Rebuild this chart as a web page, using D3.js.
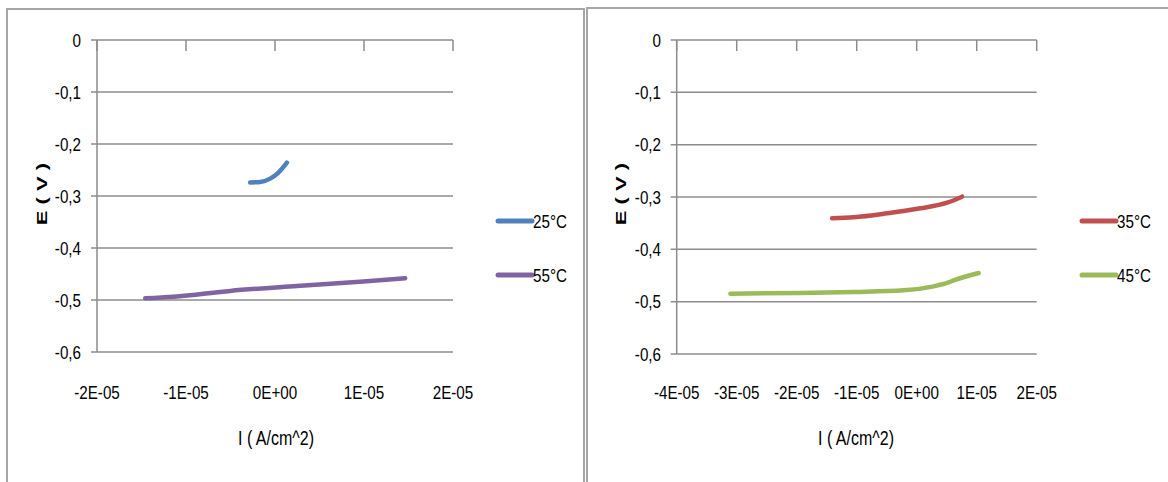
<!DOCTYPE html>
<html>
<head>
<meta charset="utf-8">
<script src="https://cdn.jsdelivr.net/npm/d3@7"></script>
<style>
  body { margin: 0; background: #fff; }
  svg text { font-family: "Liberation Sans", Arial, sans-serif; fill: #000; }
</style>
</head>
<body>
<svg id="chart" width="1168" height="482"></svg>
<script>
// ***** Data *****
const yTicks = [0, -0.1, -0.2, -0.3, -0.4, -0.5, -0.6];
const xTicksLeft = [-2e-5, -1e-5, 0, 1e-5, 2e-5];
const xTicksRight = [-4e-5, -3e-5, -2e-5, -1e-5, 0, 1e-5, 2e-5];

// [I (A/cm^2), E (V)]
const curve25 = [
  [-2.79e-6, -0.274], [-1.66e-6, -0.273], [-0.54e-6, -0.2666],
  [0.39e-6, -0.255], [1.34e-6, -0.236]
];
const curve55 = [
  [-1.458e-5, -0.4968], [-1.14e-5, -0.4938], [-0.503e-5, -0.4825],
  [0.246e-5, -0.473], [0.994e-5, -0.4642], [1.463e-5, -0.458]
];
const curve35 = [
  [-1.41e-5, -0.3407], [-1.05e-5, -0.3388], [-0.493e-5, -0.3312],
  [0.062e-5, -0.3216], [0.507e-5, -0.3109], [0.757e-5, -0.2994]
];
const curve45 = [
  [-3.105e-5, -0.4847], [-1.94e-5, -0.4834], [-1.05e-5, -0.4815],
  [-0.217e-5, -0.4784], [0.283e-5, -0.4707], [0.507e-5, -0.4643],
  [0.617e-5, -0.4593], [1.033e-5, -0.4453]
];

const svg = d3.select("#chart");
// the original font is a narrow one, so squeeze Liberation Sans a bit
const squeeze = 0.8;

function fmtY(d) {
  return d === 0 ? "0" : d.toFixed(1).replace(".", ",");
}
function fmtX(d) {
  if (d === 0) return "0E+00";
  return Math.round(d / 1e-5) + "E-05";
}
function at(xf, yf) {
  return function(d) {
    const px = typeof xf === "function" ? xf(d) : xf;
    const py = typeof yf === "function" ? yf(d) : yf;
    return "translate(" + px + "," + py + ") scale(" + squeeze + ",1)";
  };
}

// ***** One panel *****
function drawPanel(cfg) {
  const g = svg.append("g");

  // panel frame
  g.append("rect")
    .attr("x", cfg.frame[0])
    .attr("y", cfg.frame[1])
    .attr("width", cfg.frame[2])
    .attr("height", cfg.frame[3])
    .attr("fill", "none")
    .attr("stroke", "#a6a6a6")
    .attr("stroke-width", 2);

  const x = d3.scaleLinear().domain(cfg.xDomain).range(cfg.xRange);
  const y = d3.scaleLinear().domain([0, -0.6]).range(cfg.yRange);

  // gridlines (with small tick to the left of the axis)
  g.append("g")
    .selectAll("line")
    .data(yTicks)
    .join("line")
    .attr("x1", cfg.xRange[0] - 6)
    .attr("x2", cfg.xRange[1])
    .attr("y1", d => y(d))
    .attr("y2", d => y(d))
    .attr("stroke", "#8c8c8c")
    .attr("stroke-width", 1.5);

  // vertical axis line
  g.append("line")
    .attr("x1", cfg.xRange[0]).attr("x2", cfg.xRange[0])
    .attr("y1", y(0)).attr("y2", y(-0.6))
    .attr("stroke", "#8c8c8c")
    .attr("stroke-width", 1.5);

  // x axis sits at E = 0 (top), ticks point down
  g.append("g")
    .selectAll("line")
    .data(cfg.xTicks)
    .join("line")
    .attr("x1", d => x(d)).attr("x2", d => x(d))
    .attr("y1", y(0)).attr("y2", y(0) + 11)
    .attr("stroke", "#8c8c8c")
    .attr("stroke-width", 1.5);

  // y tick labels
  g.append("g")
    .selectAll("text")
    .data(yTicks)
    .join("text")
    .attr("transform", at(cfg.yLabelX, d => y(d)))
    .attr("dy", "0.35em")
    .attr("text-anchor", "end")
    .style("font-size", "19px")
    .text(fmtY);

  // x tick labels, at the bottom
  g.append("g")
    .selectAll("text")
    .data(cfg.xTicks)
    .join("text")
    .attr("transform", at(d => x(d), 399))
    .attr("text-anchor", "middle")
    .style("font-size", "19px")
    .text(fmtX);

  // axis titles
  g.append("text")
    .attr("transform", "translate(" + cfg.yTitleX + ",194) rotate(-90) scale(1,0.65)")
    .attr("text-anchor", "middle")
    .attr("dy", "0.35em")
    .style("font-size", "22px")
    .style("font-weight", "bold")
    .text("E ( V )");

  g.append("text")
    .attr("transform", at(cfg.xTitleX, 445))
    .attr("text-anchor", "middle")
    .style("font-size", "20px")
    .text("I ( A/cm^2)");

  // series
  const line = d3.line()
    .x(d => x(d[0]))
    .y(d => y(d[1]))
    .curve(d3.curveMonotoneX);

  cfg.series.forEach(function(s, i) {
    g.append("path")
      .datum(s.data)
      .attr("d", line)
      .attr("fill", "none")
      .attr("stroke", s.color)
      .attr("stroke-width", 4.5)
      .attr("stroke-linecap", "round");

    // legend entry
    const ly = cfg.legendY[i];
    g.append("line")
      .attr("x1", cfg.legendX).attr("x2", cfg.legendX + 34)
      .attr("y1", ly).attr("y2", ly)
      .attr("stroke", s.color)
      .attr("stroke-width", 5)
      .attr("stroke-linecap", "round");
    g.append("text")
      .attr("transform", at(cfg.legendX + 35, ly))
      .attr("dy", "0.35em")
      .style("font-size", "19px")
      .text(s.name);
  });
}

drawPanel({
  frame: [7, 9, 577, 500],
  xDomain: [-2e-5, 2e-5],
  xRange: [97, 453],
  yRange: [40, 352],
  xTicks: xTicksLeft,
  yLabelX: 81,
  yTitleX: 42,
  xTitleX: 276,
  legendX: 498,
  legendY: [221, 275],
  series: [
    { name: "25°C", color: "#4F81BD", data: curve25 },
    { name: "55°C", color: "#8064A2", data: curve55 }
  ]
});

drawPanel({
  frame: [587, 8, 600, 500],
  xDomain: [-4e-5, 2e-5],
  xRange: [676.7, 1036.7],
  yRange: [40, 354],
  xTicks: xTicksRight,
  yLabelX: 661,
  yTitleX: 621,
  xTitleX: 856,
  legendX: 1082,
  legendY: [221, 275],
  series: [
    { name: "35°C", color: "#C0504D", data: curve35 },
    { name: "45°C", color: "#9BBB59", data: curve45 }
  ]
});
</script>
</body>
</html>
